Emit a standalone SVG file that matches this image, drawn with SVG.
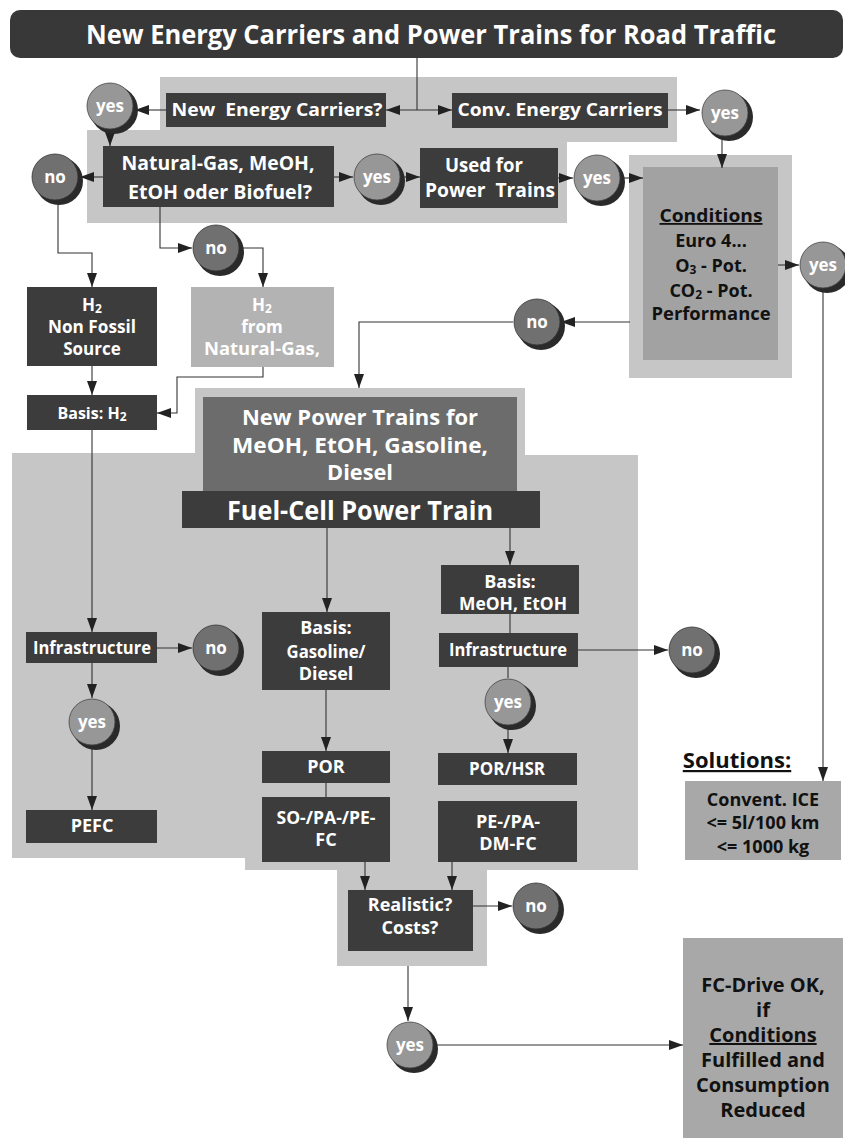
<svg xmlns="http://www.w3.org/2000/svg" width="845" height="1145" viewBox="0 0 845 1145">
<style>
.t{font-family:"Open Sans","DejaVu Sans",sans-serif;font-weight:bold;text-anchor:middle}
.w{fill:#fff}
.k{fill:#111}
.dark{fill:#3c3c3c}
.panel{fill:#c6c6c6}
.c{fill:none;stroke:#333;stroke-width:1.1}
.sh{fill:#2a2a2a}
.yes{fill:#979797;stroke:#444;stroke-width:0.8}
.no{fill:#707070;stroke:#333;stroke-width:0.8}
</style>
<defs>
<marker id="ah" viewBox="0 0 14 10" refX="14" refY="5" markerWidth="14" markerHeight="10" markerUnits="userSpaceOnUse" orient="auto-start-reverse"><path d="M0,0 L14,5 L0,10 Z" fill="#222"/></marker>
</defs>
<rect width="845" height="1145" fill="#fff"/>

<g id="panels">
<rect class="panel" x="160" y="77" width="517" height="65"/>
<rect class="panel" x="87" y="130" width="480" height="93"/>
<path class="panel" d="M12,453 H195 V388 H525 V455 H638 V870 H487 V966 H337 V870 H245 V858 H12 Z"/>
</g>

<g id="title">
<rect x="10" y="10" width="833" height="48" rx="10" fill="#383838"/>
<text class="t w" x="431" y="44" font-size="27" textLength="690" lengthAdjust="spacingAndGlyphs">New Energy Carriers and Power Trains for Road Traffic</text>
</g>

<g id="n-newcarriers"><rect class="dark" x="166" y="93" width="220" height="34"/><text class="t w" x="277" y="116" font-size="18" textLength="211" lengthAdjust="spacingAndGlyphs">New&#160; Energy Carriers?</text></g>
<g id="n-convcarriers"><rect class="dark" x="452" y="93" width="216" height="35"/><text class="t w" x="560" y="116" font-size="18" textLength="205" lengthAdjust="spacingAndGlyphs">Conv. Energy Carriers</text></g>

<g id="n-natgas"><rect class="dark" x="103" y="146" width="231" height="61"/>
<text class="t w" x="218" y="170" font-size="19" textLength="193" lengthAdjust="spacingAndGlyphs">Natural-Gas, MeOH,</text>
<text class="t w" x="220" y="199" font-size="19" textLength="184" lengthAdjust="spacingAndGlyphs">EtOH oder Biofuel?</text></g>

<g id="n-usedfor"><rect class="dark" x="420" y="148" width="138" height="60"/>
<text class="t w" x="484" y="172" font-size="19" textLength="78" lengthAdjust="spacingAndGlyphs">Used for</text>
<text class="t w" x="490" y="197" font-size="19" textLength="130" lengthAdjust="spacingAndGlyphs">Power&#160; Trains</text></g>

<g id="n-conditions"><rect class="panel" x="629" y="155" width="163" height="223"/><rect x="643" y="167" width="135" height="193" fill="#a2a2a2"/>
<text class="t k" x="711" y="222" font-size="18" text-decoration="underline" textLength="103" lengthAdjust="spacingAndGlyphs">Conditions</text>
<text class="t k" x="711" y="247" font-size="18">Euro 4...</text>
<text class="t k" x="711" y="272" font-size="18">O<tspan font-size="12" dy="2">3</tspan><tspan dy="-2"> - Pot.</tspan></text>
<text class="t k" x="711" y="297" font-size="18">CO<tspan font-size="12" dy="2">2</tspan><tspan dy="-2"> - Pot.</tspan></text>
<text class="t k" x="711" y="320" font-size="18" textLength="119" lengthAdjust="spacingAndGlyphs">Performance</text></g>

<g id="n-h2nonfossil"><rect class="dark" x="27" y="287" width="130" height="79"/>
<text class="t w" x="92" y="311" font-size="17">H<tspan font-size="12" dy="2">2</tspan></text>
<text class="t w" x="92" y="333" font-size="17" textLength="88" lengthAdjust="spacingAndGlyphs">Non Fossil</text>
<text class="t w" x="92" y="355" font-size="17">Source</text></g>

<g id="n-h2natgas"><rect x="191" y="287" width="143" height="80" fill="#b3b3b3"/>
<text class="t w" x="262" y="311" font-size="17">H<tspan font-size="12" dy="2">2</tspan></text>
<text class="t w" x="262" y="333" font-size="17">from</text>
<text class="t w" x="262" y="355" font-size="17" textLength="116" lengthAdjust="spacingAndGlyphs">Natural-Gas,</text></g>

<g id="n-basish2"><rect class="dark" x="27" y="395" width="130" height="35"/>
<text class="t w" x="92" y="419" font-size="16">Basis: H<tspan font-size="12" dy="2">2</tspan></text></g>

<g id="n-newpowertrains"><rect x="203" y="397" width="314" height="95" fill="#6c6c6c"/>
<text class="t w" x="360" y="425" font-size="21" textLength="236" lengthAdjust="spacingAndGlyphs">New Power Trains for</text>
<text class="t w" x="360" y="453" font-size="21" textLength="256" lengthAdjust="spacingAndGlyphs">MeOH, EtOH, Gasoline,</text>
<text class="t w" x="360" y="480" font-size="21" textLength="66" lengthAdjust="spacingAndGlyphs">Diesel</text></g>

<g id="n-fuelcell"><rect class="dark" x="182" y="491" width="358" height="37"/>
<text class="t w" x="360" y="520" font-size="27" textLength="266" lengthAdjust="spacingAndGlyphs">Fuel-Cell Power Train</text></g>

<g id="n-infra1"><rect class="dark" x="26" y="632" width="131" height="31"/>
<text class="t w" x="92" y="654" font-size="18" textLength="118" lengthAdjust="spacingAndGlyphs">Infrastructure</text></g>
<g id="n-pefc"><rect class="dark" x="26" y="810" width="131" height="33"/>
<text class="t w" x="92" y="832" font-size="18">PEFC</text></g>

<g id="n-basisgas"><rect class="dark" x="262" y="612" width="128" height="78"/>
<text class="t w" x="326" y="634" font-size="18">Basis:</text>
<text class="t w" x="326" y="658" font-size="18" textLength="79" lengthAdjust="spacingAndGlyphs">Gasoline/</text>
<text class="t w" x="326" y="680" font-size="18">Diesel</text></g>
<g id="n-por"><rect class="dark" x="262" y="751" width="128" height="32"/>
<text class="t w" x="326" y="773" font-size="18">POR</text></g>
<g id="n-sofc"><rect class="dark" x="262" y="797" width="128" height="65"/>
<text class="t w" x="326" y="824" font-size="18" textLength="99" lengthAdjust="spacingAndGlyphs">SO-/PA-/PE-</text>
<text class="t w" x="326" y="846" font-size="18">FC</text></g>

<g id="n-basismeoh"><rect class="dark" x="441" y="565" width="138" height="49"/>
<text class="t w" x="510" y="588" font-size="18">Basis:</text>
<text class="t w" x="513" y="610" font-size="18" textLength="108" lengthAdjust="spacingAndGlyphs">MeOH, EtOH</text></g>
<g id="n-infra2"><rect class="dark" x="439" y="633" width="139" height="34"/>
<text class="t w" x="508" y="656" font-size="18" textLength="118" lengthAdjust="spacingAndGlyphs">Infrastructure</text></g>
<g id="n-porhsr"><rect class="dark" x="438" y="753" width="139" height="32"/>
<text class="t w" x="507" y="775" font-size="18" textLength="76" lengthAdjust="spacingAndGlyphs">POR/HSR</text></g>
<g id="n-pefc2"><rect class="dark" x="438" y="801" width="139" height="61"/>
<text class="t w" x="508" y="828" font-size="18">PE-/PA-</text>
<text class="t w" x="508" y="850" font-size="18">DM-FC</text></g>

<g id="n-realistic"><rect class="dark" x="348" y="890" width="125" height="61"/>
<text class="t w" x="410" y="911" font-size="18">Realistic?</text>
<text class="t w" x="410" y="934" font-size="18">Costs?</text></g>

<g id="n-solutions"><text class="t k" x="737" y="768" font-size="22" text-decoration="underline">Solutions:</text></g>
<g id="n-ice"><rect x="685" y="781" width="156" height="79" fill="#a8a8a8"/>
<text class="t k" x="763" y="806" font-size="18">Convent. ICE</text>
<text class="t k" x="763" y="829" font-size="18">&lt;= 5l/100 km</text>
<text class="t k" x="763" y="853" font-size="18">&lt;= 1000 kg</text></g>

<g id="n-fcdrive"><rect x="683" y="938" width="160" height="200" fill="#a8a8a8"/>
<text class="t k" x="763" y="992" font-size="20">FC-Drive OK,</text>
<text class="t k" x="763" y="1017" font-size="20">if</text>
<text class="t k" x="763" y="1042" font-size="20" text-decoration="underline">Conditions</text>
<text class="t k" x="763" y="1067" font-size="20">Fulfilled and</text>
<text class="t k" x="763" y="1092" font-size="20">Consumption</text>
<text class="t k" x="763" y="1117" font-size="20">Reduced</text></g>

<g id="connectors">
<path class="c" d="M417,58 V110"/>
<path class="c" d="M386,110 H452" marker-start="url(#ah)" marker-end="url(#ah)"/>
<path class="c" d="M166,110 H135" marker-end="url(#ah)"/>
<path class="c" d="M110,130 V146" marker-end="url(#ah)"/>
<path class="c" d="M668,110 H700" marker-end="url(#ah)"/>
<path class="c" d="M722,137 V168" marker-end="url(#ah)"/>
<path class="c" d="M103,177 H80" marker-end="url(#ah)"/>
<path class="c" d="M334,177 H353" marker-end="url(#ah)"/>
<path class="c" d="M401,177 H420" marker-end="url(#ah)"/>
<path class="c" d="M558,178 H573" marker-end="url(#ah)"/>
<path class="c" d="M621,178 H643" marker-end="url(#ah)"/>
<path class="c" d="M778,265 H799" marker-end="url(#ah)"/>
<path class="c" d="M823,289 V781" marker-end="url(#ah)"/>
<path class="c" d="M630,322 H561" marker-end="url(#ah)"/>
<path class="c" d="M513,322 H359 V388" marker-end="url(#ah)"/>
<path class="c" d="M58,201 V253 H92 V287" marker-end="url(#ah)"/>
<path class="c" d="M160,207 V248 H192" marker-end="url(#ah)"/>
<path class="c" d="M240,248 H263 V287" marker-end="url(#ah)"/>
<path class="c" d="M92,366 V395" marker-end="url(#ah)"/>
<path class="c" d="M263,367 V377 H177 V413 H157" marker-end="url(#ah)"/>
<path class="c" d="M92,430 V632" marker-end="url(#ah)"/>
<path class="c" d="M157,648 H192" marker-end="url(#ah)"/>
<path class="c" d="M92,663 V698" marker-end="url(#ah)"/>
<path class="c" d="M92,746 V810" marker-end="url(#ah)"/>
<path class="c" d="M327,528 V612" marker-end="url(#ah)"/>
<path class="c" d="M510,528 V565" marker-end="url(#ah)"/>
<path class="c" d="M510,614 V633"/>
<path class="c" d="M578,650 H668" marker-end="url(#ah)"/>
<path class="c" d="M508,667 V678"/>
<path class="c" d="M508,726 V753" marker-end="url(#ah)"/>
<path class="c" d="M326,690 V751" marker-end="url(#ah)"/>
<path class="c" d="M326,783 V797"/>
<path class="c" d="M365,862 V890" marker-end="url(#ah)"/>
<path class="c" d="M452,862 V890" marker-end="url(#ah)"/>
<path class="c" d="M473,906 H512" marker-end="url(#ah)"/>
<path class="c" d="M408,966 V1021" marker-end="url(#ah)"/>
<path class="c" d="M434,1045 H683" marker-end="url(#ah)"/>
</g>

<g id="c-yes1"><circle class="sh" cx="114" cy="110" r="24"/><circle class="yes" cx="110" cy="106" r="23"/><text class="t w" x="110" y="112" font-size="17">yes</text></g>
<g id="c-yes2"><circle class="sh" cx="729" cy="117" r="24"/><circle class="yes" cx="725" cy="113" r="23"/><text class="t w" x="725" y="119" font-size="17">yes</text></g>
<g id="c-no1"><circle class="sh" cx="59" cy="181" r="24"/><circle class="no" cx="55" cy="177" r="23"/><text class="t w" x="55" y="183" font-size="17">no</text></g>
<g id="c-yes3"><circle class="sh" cx="381" cy="181" r="24"/><circle class="yes" cx="377" cy="177" r="23"/><text class="t w" x="377" y="183" font-size="17">yes</text></g>
<g id="c-yes4"><circle class="sh" cx="601" cy="182" r="24"/><circle class="yes" cx="597" cy="178" r="23"/><text class="t w" x="597" y="184" font-size="17">yes</text></g>
<g id="c-yes5"><circle class="sh" cx="827" cy="269" r="24"/><circle class="yes" cx="823" cy="265" r="23"/><text class="t w" x="823" y="271" font-size="17">yes</text></g>
<g id="c-no2"><circle class="sh" cx="220" cy="252" r="24"/><circle class="no" cx="216" cy="248" r="23"/><text class="t w" x="216" y="254" font-size="17">no</text></g>
<g id="c-no3"><circle class="sh" cx="541" cy="326" r="24"/><circle class="no" cx="537" cy="322" r="23"/><text class="t w" x="537" y="328" font-size="17">no</text></g>
<g id="c-no4"><circle class="sh" cx="220" cy="652" r="24"/><circle class="no" cx="216" cy="648" r="23"/><text class="t w" x="216" y="654" font-size="17">no</text></g>
<g id="c-yes6"><circle class="sh" cx="96" cy="726" r="24"/><circle class="yes" cx="92" cy="722" r="23"/><text class="t w" x="92" y="728" font-size="17">yes</text></g>
<g id="c-no5"><circle class="sh" cx="696" cy="654" r="24"/><circle class="no" cx="692" cy="650" r="23"/><text class="t w" x="692" y="656" font-size="17">no</text></g>
<g id="c-yes7"><circle class="sh" cx="512" cy="706" r="24"/><circle class="yes" cx="508" cy="702" r="23"/><text class="t w" x="508" y="708" font-size="17">yes</text></g>
<g id="c-no6"><circle class="sh" cx="540" cy="910" r="24"/><circle class="no" cx="536" cy="906" r="23"/><text class="t w" x="536" y="912" font-size="17">no</text></g>
<g id="c-yes8"><circle class="sh" cx="414" cy="1049" r="24"/><circle class="yes" cx="410" cy="1045" r="23"/><text class="t w" x="410" y="1051" font-size="17">yes</text></g>
</svg>
